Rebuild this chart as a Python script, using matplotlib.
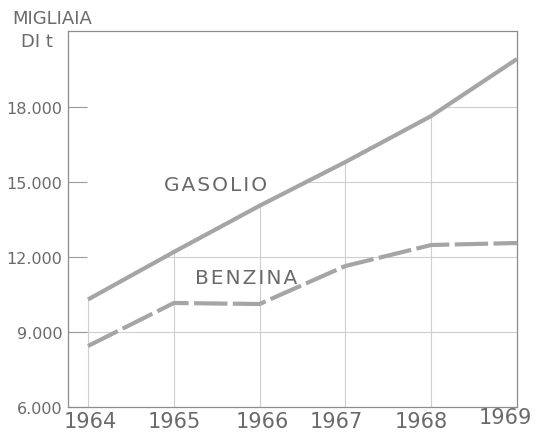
import numpy as np
import matplotlib
matplotlib.use('Agg')
import matplotlib.pyplot as plt

# consumi in migliaia di tonnellate
anni = [1964, 1965, 1966, 1967, 1968, 1969]
gasolio = [10300, 12200, 14050, 15800, 17640, 19920]
benzina = [8440, 10160, 10120, 11640, 12480, 12560]
livelli = [6000, 9000, 12000, 15000, 18000]
etichette_y = ['6.000', '9.000', '12.000', '15.000', '18.000']

grigio = '#a5a5a5'
testo = '#6a6a6a'
griglia = '#cfcfcf'


def spaziato(s):
    # lettere appena distanziate (hair space)
    return '\u200a'.join(s)


fig = plt.figure(figsize=(5.41, 4.39), dpi=100)
ax = fig.add_axes([0.1257, 0.0706, 0.8299, 0.8565])
ax.set_xlim(1963.767, 1969)
ax.set_ylim(6000, 21040)

# griglia parziale: verticali fino alla curva del gasolio, orizzontali dalla curva a destra
for a, g in zip(anni[:-1], gasolio[:-1]):
    ax.plot([a, a], [6000, g], color=griglia, lw=0.8, zorder=1)
for liv in livelli[1:]:
    if liv < gasolio[0]:
        x0 = ax.get_xlim()[0]
    else:
        x0 = np.interp(liv, gasolio, anni)
    ax.plot([x0, 1969], [liv, liv], color=griglia, lw=0.8, zorder=1)

ax.plot(anni, gasolio, color=grigio, lw=3, solid_capstyle='butt', zorder=3)
ax.plot(anni, benzina, color=grigio, lw=3, dashes=(8, 1.3), zorder=3)

ax.text(1965.49, 14920, spaziato('GASOLIO'), color=testo, fontsize=14.5, ha='center', va='center')
ax.text(1965.84, 11200, spaziato('BENZINA'), color=testo, fontsize=14.5, ha='center', va='center')

for s in ax.spines.values():
    s.set_color('#8c8c8c')
    s.set_linewidth(0.9)

ax.set_yticks(livelli)
ax.set_yticklabels(etichette_y)
ax.tick_params(axis='y', direction='in', length=14, width=0.8, color='#9a9a9a',
               labelsize=11.5, labelcolor=testo, pad=4)
ax.set_xticks([])

# etichette degli anni, leggermente spostate come nella stampa
spost = [2, 1, 3, -9, -10, -12]
alz = [0, 0, 0, 0, 0, 4]
for a, dx, dy in zip(anni, spost, alz):
    ax.annotate(str(a), xy=(a, 6000), xytext=(dx, -4 + dy), textcoords='offset pixels',
                ha='center', va='top', fontsize=15, color=testo, annotation_clip=False)

fig.text(0.022, 0.978, 'MIGLIAIA', color=testo, fontsize=13, ha='left', va='top')
fig.text(0.038, 0.925, 'DI t', color=testo, fontsize=13, ha='left', va='top')

fig.savefig('out.png', dpi=100, facecolor='white')
